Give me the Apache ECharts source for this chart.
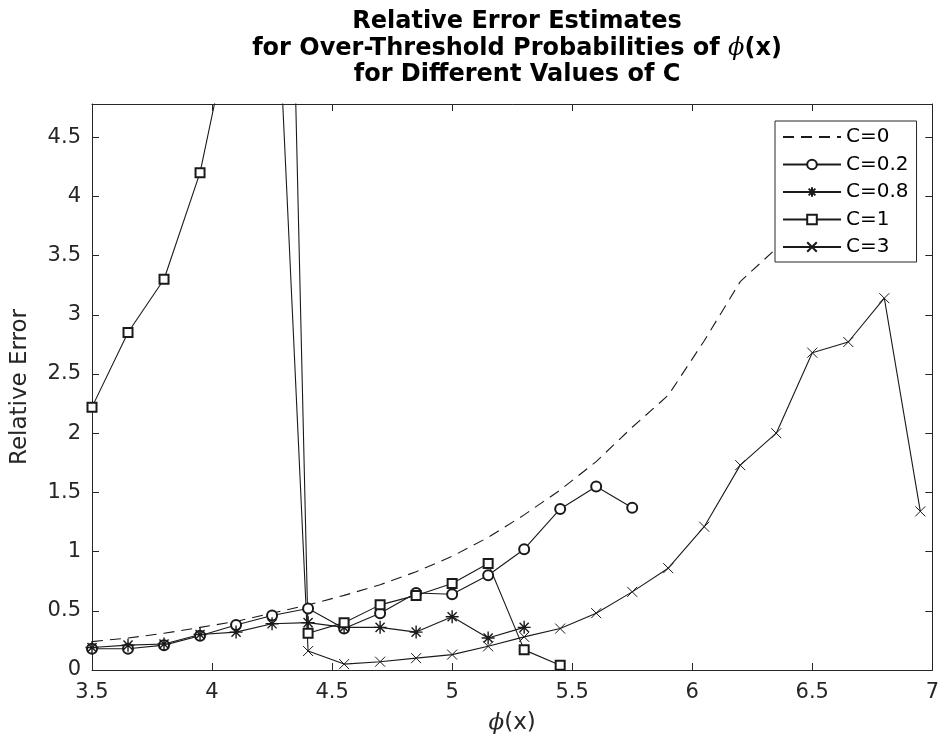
<!DOCTYPE html>
<html><head><meta charset="utf-8">
<script src="https://cdn.jsdelivr.net/npm/echarts@6/dist/echarts.min.js"></script>
<style>html,body{margin:0;padding:0;background:#fff}#c{width:942px;height:743px}</style>
</head><body><div id="c"></div>
<script>
const xValues = [3.5,3.65,3.8,3.95,4.1,4.25,4.4,4.55,4.7,4.85,5.0,5.15,5.3,5.45,5.6,5.75,5.9,6.05,6.2,6.35,6.5,6.65,6.8,6.95];
const c0  = [0.24,0.27,0.31,0.36,0.41,0.48,0.55,0.63,0.72,0.83,0.96,1.12,1.31,1.52,1.76,2.05,2.32,2.78,3.28,3.56,3.85];
const c02 = [0.18,0.18,0.21,0.29,0.38,0.46,0.52,0.35,0.48,0.65,0.64,0.80,1.02,1.36,1.55,1.37];
const c08 = [0.19,0.21,0.22,0.30,0.32,0.39,0.40,0.36,0.36,0.32,0.45,0.27,0.36];
const c1  = [2.22,2.85,3.30,4.20,5.65,13.4,0.31,0.40,0.55,0.63,0.73,0.90,0.17,0.04];
const c3  = [null,null,null,null,null,6.73,0.16,0.05,0.07,0.10,0.13,0.20,0.28,0.35,0.48,0.66,0.86,1.21,1.73,2.00,2.68,2.77,3.14,1.34];
const seriesNames = ['C=0','C=0.2','C=0.8','C=1','C=3'];
const xTicks = [3.5,4,4.5,5,5.5,6,6.5,7];
const yTicks = [0,0.5,1,1.5,2,2.5,3,3.5,4,4.5];

const pairs = arr => arr.map((v,i)=>[xValues[i], v]).filter(p=>p[1]!==null);
const INK = '#1a1a1a', AX = '#262626';
const FONT = 'DejaVu Sans';
const asterisk = 'path://M5,0L5,10M0,5L10,5M1.5,1.5L8.5,8.5M8.5,1.5L1.5,8.5';
const cross = 'path://M0,0L10,10M10,0L0,10';

const axisCommon = {
  type:'value', interval:0.5,
  axisLine:{show:true, onZero:false, lineStyle:{color:AX, width:1}},
  axisTick:{show:true, inside:true, length:7, lineStyle:{color:AX}},
  splitLine:{show:false}
};
const base = {
  type:'line', showSymbol:true, clip:true, silent:true, animation:false,
  lineStyle:{color:INK, width:1.1}
};
const chart = echarts.init(document.getElementById('c'), null, {renderer:'canvas'});
chart.setOption({
  backgroundColor:'#fff',
  animation:false,
  textStyle:{fontFamily:FONT},
  title:{
    text:'Relative Error Estimates\nfor Over-Threshold Probabilities of {i|ϕ}(x)\nfor Different Values of C',
    left:512, top:4, textAlign:'center',
    textStyle:{fontFamily:FONT, fontWeight:'bold', fontSize:24, color:'#000', lineHeight:26.5,
      rich:{i:{fontFamily:'DejaVu Serif', fontStyle:'italic', fontWeight:'normal', fontSize:24, color:'#000', lineHeight:26.5}}}
  },
  grid:{left:92, right:9, top:104, bottom:73, containLabel:false},
  legend:{
    data:[
      {name:'C=0', itemStyle:{color:'rgba(0,0,0,0)', borderColor:'rgba(0,0,0,0)'}},
      'C=0.2','C=0.8','C=1','C=3'
    ],
    orient:'vertical', left:775, top:121,
    itemWidth:58, itemHeight:12, itemGap:7.5,
    backgroundColor:'#fff', borderColor:AX, borderWidth:1, padding:[6,8,5,7],
    textStyle:{fontFamily:FONT, fontSize:20, color:'#000'}
  },
  xAxis:[
    Object.assign({}, axisCommon, {min:3.5, max:7, position:'bottom',
      name:'{i|ϕ}(x)', nameLocation:'middle', nameGap:42,
      nameTextStyle:{fontFamily:FONT, fontSize:23, color:AX,
        rich:{i:{fontFamily:'DejaVu Serif', fontStyle:'italic', fontSize:23, color:AX}}},
      axisLabel:{fontFamily:FONT, fontSize:21, color:AX, margin:12,
        formatter:v=> xTicks.includes(+v.toFixed(2)) ? String(+v.toFixed(2)) : ''}}),
    Object.assign({}, axisCommon, {min:3.5, max:7, position:'top', axisLabel:{show:false}})
  ],
  yAxis:[
    Object.assign({}, axisCommon, {min:0, max:4.78, position:'left',
      name:'Relative Error', nameLocation:'middle', nameGap:60,
      nameTextStyle:{fontFamily:FONT, fontSize:23, color:AX},
      axisLabel:{fontFamily:FONT, fontSize:21, color:AX, margin:11, showMaxLabel:false,
        formatter:v=> yTicks.includes(+v.toFixed(2)) ? String(+v.toFixed(2)) : ''}}),
    Object.assign({}, axisCommon, {min:0, max:4.78, position:'right', axisLabel:{show:false}})
  ],
  series:[
    Object.assign({}, base, {name:'C=0', data:pairs(c0), symbol:'none',
      lineStyle:{color:INK, width:1.1, type:[11,7]}, itemStyle:{color:INK}}),
    Object.assign({}, base, {name:'C=0.2', data:pairs(c02), symbol:'emptyCircle', symbolSize:10,
      itemStyle:{color:INK, borderColor:INK, borderWidth:1}}),
    Object.assign({}, base, {name:'C=0.8', data:pairs(c08), symbol:asterisk, symbolSize:13,
      itemStyle:{color:'none', borderColor:INK, borderWidth:1.4}}),
    Object.assign({}, base, {name:'C=1', data:pairs(c1), symbol:'emptyRect', symbolSize:9,
      itemStyle:{color:INK, borderColor:INK, borderWidth:1}}),
    Object.assign({}, base, {name:'C=3', data:pairs(c3), symbol:cross, symbolSize:10,
      itemStyle:{color:'none', borderColor:INK, borderWidth:1}})
  ]
});
</script></body></html>
